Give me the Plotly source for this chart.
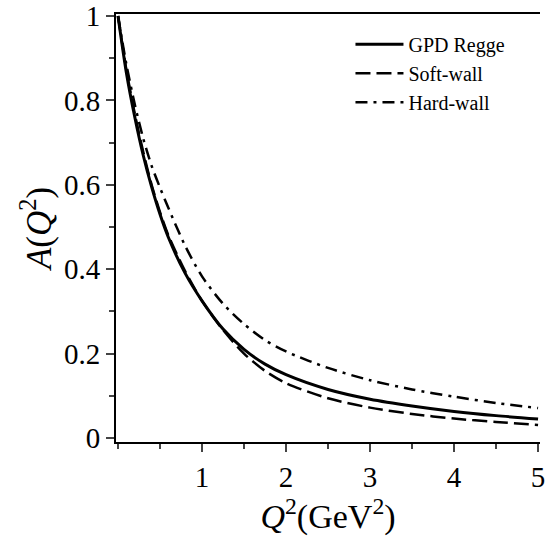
import plotly.graph_objects as go

q2 = [0, 0.1, 0.2, 0.3, 0.4, 0.5, 0.6, 0.8, 1.0, 1.25, 1.5, 1.75, 2.0, 2.5, 3.0, 3.5, 4.0, 4.5, 5.0]
gpd_regge = [1.0, 0.865, 0.76, 0.67, 0.595, 0.53, 0.475, 0.39, 0.325, 0.258, 0.21, 0.175, 0.15, 0.115, 0.092, 0.076, 0.063, 0.053, 0.045]
soft_wall = [1.0, 0.872, 0.768, 0.678, 0.60, 0.535, 0.48, 0.395, 0.325, 0.256, 0.20, 0.159, 0.13, 0.094, 0.072, 0.057, 0.046, 0.038, 0.031]
hard_wall = [1.0, 0.885, 0.79, 0.71, 0.645, 0.593, 0.545, 0.455, 0.383, 0.318, 0.27, 0.232, 0.205, 0.166, 0.137, 0.115, 0.098, 0.083, 0.071]

x_ticks = [1, 2, 3, 4, 5]
y_ticks = [0, 0.2, 0.4, 0.6, 0.8, 1]
y_tick_labels = ["0", "0.2", "0.4", "0.6", "0.8", "1"]

serif = "Liberation Serif, Times New Roman, serif"

fig = go.Figure()
fig.add_trace(go.Scatter(x=q2, y=gpd_regge, mode="lines", name="GPD Regge",
                         line=dict(color="black", width=3, shape="spline", smoothing=0.8, dash="solid")))
fig.add_trace(go.Scatter(x=q2, y=soft_wall, mode="lines", name="Soft-wall",
                         line=dict(color="black", width=2.5, shape="spline", smoothing=0.8, dash="15px,6px")))
fig.add_trace(go.Scatter(x=q2, y=hard_wall, mode="lines", name="Hard-wall",
                         line=dict(color="black", width=2.5, shape="spline", smoothing=0.8, dash="12px,6px,3px,6px")))

fig.update_layout(
    width=545, height=545,
    margin=dict(l=116, r=0, t=13, b=103),
    paper_bgcolor="white", plot_bgcolor="white",
    font=dict(family=serif, color="black"),
    showlegend=True,
    legend=dict(x=0.553, y=0.975, xanchor="left", yanchor="top",
                bgcolor="rgba(0,0,0,0)", itemwidth=48, tracegroupgap=0,
                font=dict(family=serif, size=20, color="black")),
    xaxis=dict(range=[-0.024, 5.023], tickvals=x_ticks, ticks="outside", ticklen=8, tickwidth=2,
               showline=True, linewidth=2, linecolor="black", mirror=True,
               showgrid=False, zeroline=False, ticklabeloverflow="allow",
               tickfont=dict(family=serif, size=29),
               minor=dict(dtick=0.5, tick0=0, ticks="outside", ticklen=5, tickwidth=1.5, showgrid=False),
               title=dict(text="<i>Q</i><sup>2</sup>(GeV<sup>2</sup>)", font=dict(family=serif, size=34), standoff=10)),
    yaxis=dict(range=[-0.0095, 1.0047], tickvals=y_ticks, ticktext=y_tick_labels, ticks="outside",
               ticklen=8, tickwidth=2,
               showline=True, linewidth=2, linecolor="black",
               showgrid=False, zeroline=False, ticklabeloverflow="allow",
               tickfont=dict(family=serif, size=29),
               minor=dict(dtick=0.1, tick0=0, ticks="outside", ticklen=5, tickwidth=1.5, showgrid=False),
               title=dict(text="<i>A</i>(<i>Q</i><sup>2</sup>)", font=dict(family=serif, size=35), standoff=2)),
)

fig.write_html("out.html")
